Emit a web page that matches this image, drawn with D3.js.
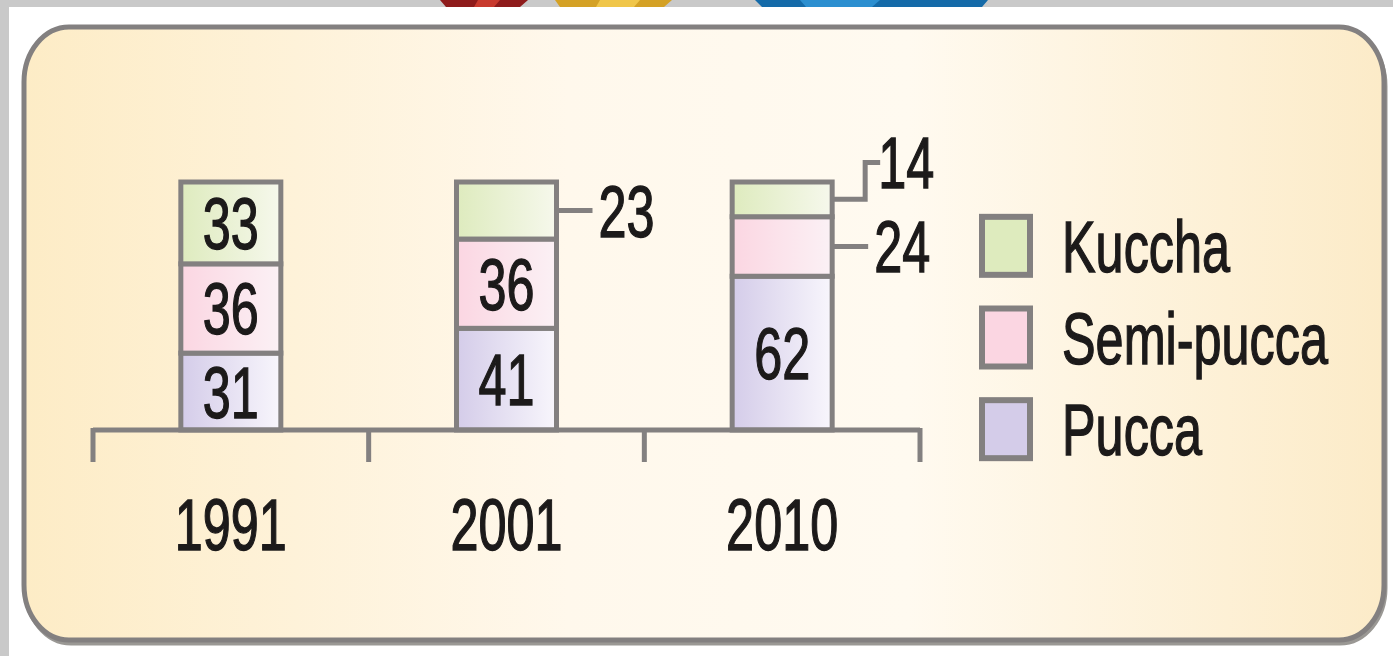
<!DOCTYPE html>
<html>
<head>
<meta charset="utf-8">
<script src="https://cdn.jsdelivr.net/npm/d3@7"></script>
<style>
  html, body { margin: 0; padding: 0; background: #c9c9c9; overflow: hidden; }
  svg { display: block; }
</style>
</head>
<body>
<div id="chart"></div>
<script>
// ------ DATA ------

const years = ["1991", "2001", "2010"];
const series = ["Pucca", "Semi-pucca", "Kuccha"];   // stacked bottom -> top
const legendOrder = ["Kuccha", "Semi-pucca", "Pucca"];
const puccaValues = [31, 41, 62];
const semiPuccaValues = [36, 36, 24];
const kucchaValues = [33, 23, 14];

// ----- GLOBAL VARIABLES ----

const WIDTH = 1393, HEIGHT = 656;
const FONT = "'Liberation Sans', Arial, sans-serif";
const SQUEEZE = 0.7;   // condensed look of the original lettering
const GREY = "#838080";

const seriesColors = {
  "Kuccha":     ["#deebbe", "#f6f8ec"],
  "Semi-pucca": ["#fbd6e2", "#fbf1f5"],
  "Pucca":      ["#d4cce9", "#f8f6fc"]
};

// ****************************************
// ------ FUNCTIONS ------

function init() {
  const svg = d3.select("#chart").append("svg")
    .attr("width", WIDTH)
    .attr("height", HEIGHT);

  drawBackground(svg);
  drawChart(svg);
  drawLegend(svg);
}

function drawBackground(svg) {
  const defs = svg.append("defs");

  // panel gradient (cream edges, paler middle)
  const pg = defs.append("linearGradient").attr("id", "panelGrad")
    .attr("x1", 0).attr("x2", 1).attr("y1", 0).attr("y2", 0);
  pg.append("stop").attr("offset", "0%").attr("stop-color", "#fdecc6");
  pg.append("stop").attr("offset", "40%").attr("stop-color", "#fff8ec");
  pg.append("stop").attr("offset", "65%").attr("stop-color", "#fffaf0");
  pg.append("stop").attr("offset", "100%").attr("stop-color", "#fcebc8");

  // bar gradients
  Object.keys(seriesColors).forEach(function(k, i) {
    const g = defs.append("linearGradient").attr("id", "grad" + i)
      .attr("x1", 0).attr("x2", 1).attr("y1", 0).attr("y2", 0);
    g.append("stop").attr("offset", "0%").attr("stop-color", seriesColors[k][0]);
    g.append("stop").attr("offset", "100%").attr("stop-color", seriesColors[k][1]);
  });

  // white page
  svg.append("rect")
    .attr("x", 9).attr("y", 7)
    .attr("width", WIDTH - 9).attr("height", HEIGHT - 7)
    .attr("fill", "#ffffff");

  // bits of logo peeking in at the top
  const logo = svg.append("g");
  logo.append("path").attr("d", "M440,0 L528,0 L520,7 L446,7 Z").attr("fill", "#8e1b1b");
  logo.append("path").attr("d", "M478,0 L500,0 L494,7 L474,7 Z").attr("fill", "#c83a2e");
  logo.append("path").attr("d", "M555,0 L672,0 L664,7 L560,7 Z").attr("fill", "#d4a125");
  logo.append("path").attr("d", "M600,0 L640,0 L634,7 L596,7 Z").attr("fill", "#f0c64a");
  logo.append("path").attr("d", "M755,0 L988,0 L982,7 L762,7 Z").attr("fill", "#146aa8");
  logo.append("path").attr("d", "M800,0 L880,0 L872,7 L806,7 Z").attr("fill", "#2c8fd0");

  // shadow + rounded panel
  svg.append("rect")
    .attr("x", 26).attr("y", 31)
    .attr("width", 1359).attr("height", 612)
    .attr("rx", 45).attr("ry", 55)
    .attr("fill", "none")
    .attr("stroke", "#9a9894")
    .attr("stroke-width", 5);

  svg.append("rect")
    .attr("x", 24).attr("y", 27)
    .attr("width", 1360).attr("height", 613)
    .attr("rx", 45).attr("ry", 55)
    .attr("fill", "url(#panelGrad)")
    .attr("stroke", GREY)
    .attr("stroke-width", 5);
}

function squeezedText(sel, x, y, txt, anchor) {
  // Text drawn with a horizontal squeeze, like a condensed face
  return sel.append("text")
    .attr("transform", `translate(${x},${y}) scale(${SQUEEZE},1)`)
    .attr("text-anchor", anchor || "middle")
    .attr("font-family", FONT)
    .attr("font-size", 72)
    .attr("fill", "#1c1a1a")
    .attr("stroke", "#1c1a1a")
    .attr("stroke-width", 1.4)
    .text(txt);
}

function drawChart(svg) {
  // Build a table from the arrays
  const table = years.map(function(y, i) {
    return { year: y, "Pucca": puccaValues[i], "Semi-pucca": semiPuccaValues[i], "Kuccha": kucchaValues[i] };
  });
  const stacked = d3.stack().keys(series)(table);

  const x = d3.scaleBand()
    .domain(years)
    .range([93, 920]);

  const y = d3.scaleLinear()
    .domain([0, 100])
    .range([430, 182]);

  const barW = 100;
  const g = svg.append("g");

  // Draw segments
  stacked.forEach(function(layer) {
    const gi = Object.keys(seriesColors).indexOf(layer.key);
    g.append("g").selectAll("rect")
      .data(layer)
      .join("rect")
        .attr("x", d => x(d.data.year) + x.bandwidth() / 2 - barW / 2)
        .attr("y", d => y(d[1]))
        .attr("width", barW)
        .attr("height", d => y(d[0]) - y(d[1]))
        .attr("fill", `url(#grad${gi})`)
        .attr("stroke", GREY)
        .attr("stroke-width", 5);
  });

  // Axis line with ticks at band edges
  const axisY = y(0);
  const edges = years.map(d => x(d)).concat([x.range()[1]]);
  g.append("line")
    .attr("x1", x.range()[0]).attr("x2", x.range()[1])
    .attr("y1", axisY).attr("y2", axisY)
    .attr("stroke", GREY).attr("stroke-width", 5);
  g.selectAll(".tick")
    .data(edges)
    .join("line")
      .attr("x1", d => d).attr("x2", d => d)
      .attr("y1", axisY - 2).attr("y2", axisY + 32)
      .attr("stroke", GREY).attr("stroke-width", 5);

  // Year labels
  years.forEach(function(yr) {
    squeezedText(g, x(yr) + x.bandwidth() / 2, 550, yr);
  });

  // Value labels: inside if tall enough, otherwise a callout on the right
  years.forEach(function(yr, i) {
    const cx = x(yr) + x.bandwidth() / 2;
    const right = cx + barW / 2;
    let prevLabelY = Infinity;
    stacked.forEach(function(layer) {
      const d = layer[i];
      const v = d[1] - d[0];
      const mid = (y(d[0]) + y(d[1])) / 2;
      if (v >= 30) {
        squeezedText(g, cx, mid + 26, v);
      } else {
        const ly = Math.min(mid, prevLabelY - 84);
        prevLabelY = ly;
        if (ly === mid) {
          g.append("path")
            .attr("d", `M${right},${mid}H${right + 36}`)
            .attr("fill", "none").attr("stroke", GREY).attr("stroke-width", 5);
          squeezedText(g, right + 42, ly + 26, v, "start");
        } else {
          g.append("path")
            .attr("d", `M${right},${mid}H${right + 33}V${ly}H${right + 48}`)
            .attr("fill", "none").attr("stroke", GREY).attr("stroke-width", 5);
          squeezedText(g, right + 46, ly + 26, v, "start");
        }
      }
    });
  });
}

function drawLegend(svg) {
  const ly = d3.scaleBand()
    .domain(legendOrder)
    .range([200, 475]);

  const lg = svg.append("g");
  legendOrder.forEach(function(k) {
    const top = ly(k) + ly.bandwidth() / 2 - 29;
    lg.append("rect")
      .attr("x", 982).attr("y", top)
      .attr("width", 48).attr("height", 58)
      .attr("fill", seriesColors[k][0])
      .attr("stroke", GREY)
      .attr("stroke-width", 6);
    squeezedText(lg, 1062, top + 55, k, "start");
  });
}

init();
</script>
</body>
</html>
